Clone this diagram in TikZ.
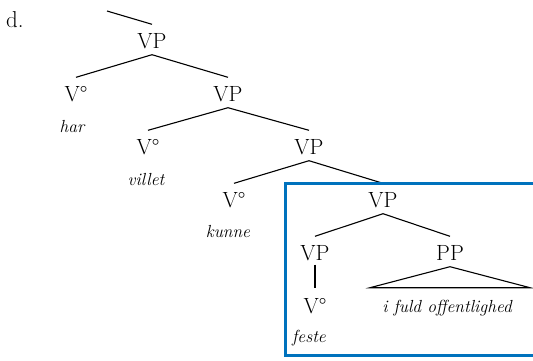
\documentclass[tikz,border=0pt]{standalone}
\definecolor{boxblue}{RGB}{0,114,189}
\newcommand{\catfont}{\fontsize{22}{26}\selectfont}
\newcommand{\wordfont}{\fontsize{17.5}{21}\selectfont\itshape}
\tikzset{
  cat/.style={inner sep=0pt, text height=15pt, text depth=0pt, font=\catfont},
  word/.style={inner sep=0pt, anchor=base, font=\wordfont},
  branch/.style={line width=1.1pt},
  frame/.style={draw=boxblue, line width=3pt}
}
\begin{document}
\begin{tikzpicture}[x=1pt,y=-1pt]
\useasboundingbox (0,0) rectangle (533,360);
\node[inner sep=0pt, anchor=base west, font=\fontsize{23}{27}\selectfont] (lbl) at (6,27) {d.};
% categories
\node[cat] (vp1) at (152,41) {VP};
\node[cat] (v1) at (76,94) {V°};
\node[cat] (vp2) at (228,94) {VP};
\node[cat] (v2) at (148,147) {V°};
\node[cat] (vp3) at (309,147) {VP};
\node[cat] (v3) at (234,200) {V°};
\node[cat] (vp4) at (383,200) {VP};
\node[cat] (vp5) at (315,253) {VP};
\node[cat] (pp) at (450,253) {PP};
\node[cat] (v4) at (315,306) {V°};
% words
\node[word] (har) at (72,132) {har};
\node[word] (villet) at (146,185) {villet};
\node[word] (kunne) at (228,237) {kunne};
\node[word] (feste) at (309,342) {feste};
\node[word] (ifuld) at (447,312) {i fuld offentlighed};
% branches
\coordinate (top) at (107,11);
\draw[branch] (top) -- ([yshift=9pt]vp1.north);
\foreach \p/\c in {vp1/v1, vp1/vp2, vp2/v2, vp2/vp3, vp3/v3, vp3/vp4, vp4/vp5, vp4/pp}
  \draw[branch] ([yshift=-6pt]\p.south) -- ([yshift=9pt]\c.north);
\draw[branch] ([yshift=-4pt]vp5.south) -- ([yshift=10pt]v4.north);
\draw[branch] ([yshift=-6pt]pp.south) -- ++(-80,21) -- ++(160,0) -- cycle;
% box
\draw[frame] (285,183.5) rectangle (538,355);
\end{tikzpicture}
\end{document}
